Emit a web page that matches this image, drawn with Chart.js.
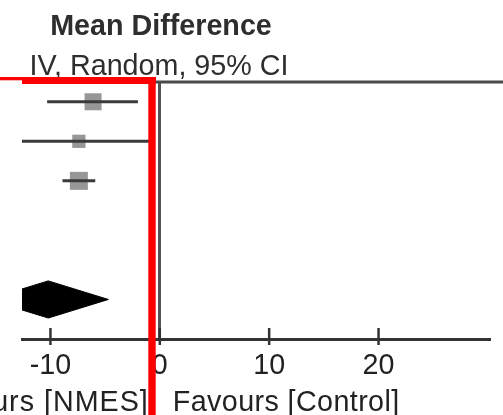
<!DOCTYPE html>
<html>
<head>
<meta charset="utf-8">
<script src="https://cdn.jsdelivr.net/npm/chart.js@4.4.0/dist/chart.umd.min.js"></script>
<style>
  html, body { margin: 0; padding: 0; background: #ffffff; }
  #wrap { width: 503px; height: 415px; position: relative; }
</style>
</head>
<body>
<div id="wrap"><canvas id="myChart" width="503" height="415"></canvas></div>
<script>
// study rows (top to bottom)
var studyRows = [1, 2, 3];
var studyMean = [-6.1, -7.4, -7.4];
var studyLow = [-10.3, -15.0, -8.9];
var studyHigh = [-2.0, -0.8, -5.9];
var studyWeight = [32.1, 19.5, 36.0];

// pooled estimate (diamond)
var pooledRow = 6;
var pooledMean = -10.2;
var pooledLow = -15.7;
var pooledHigh = -4.7;

var xTicks = [-10, 0, 10, 20];
var xMin = -12.6;
var xMax = 30.1;

var titleText = "Mean Difference";
var subTitleText = "IV, Random, 95% CI";
var leftFavours = "Favours [NMES]";
var rightFavours = "Favours [Control]";

var font_family = "'Liberation Sans', Arial, sans-serif";

var datasets = [];

// CI whiskers
for (var i = 0; i < studyRows.length; i++) {
    datasets.push({
        type: 'scatter',
        showLine: true,
        data: [{x: studyLow[i], y: studyRows[i]}, {x: studyHigh[i], y: studyRows[i]}],
        borderColor: '#3a3a3a',
        borderWidth: 3,
        pointRadius: 0
    });
}

// weighted squares (side ~ sqrt(weight))
var squarePts = [];
var squareRad = [];
for (var i = 0; i < studyRows.length; i++) {
    squarePts.push({x: studyMean[i], y: studyRows[i]});
    squareRad.push(3 * Math.sqrt(studyWeight[i]) * Math.SQRT1_2);
}
datasets.push({
    type: 'scatter',
    data: squarePts,
    pointStyle: 'rect',
    pointRadius: squareRad,
    backgroundColor: '#979797',
    borderWidth: 0
});

// diamond
var dh = 0.47;
datasets.push({
    type: 'scatter',
    showLine: true,
    fill: 'shape',
    data: [
        {x: pooledLow, y: pooledRow},
        {x: pooledMean, y: pooledRow - dh},
        {x: pooledHigh, y: pooledRow},
        {x: pooledMean, y: pooledRow + dh},
        {x: pooledLow, y: pooledRow}
    ],
    borderColor: '#000000',
    backgroundColor: '#000000',
    borderWidth: 1,
    pointRadius: 0,
    tension: 0
});

var extras = {
    id: 'extras',
    beforeDatasetsDraw: function(chart) {
        var ctx = chart.ctx;
        var area = chart.chartArea;
        ctx.save();
        // top rule
        ctx.strokeStyle = '#4a4a4a';
        ctx.lineWidth = 3;
        ctx.beginPath();
        ctx.moveTo(area.left, area.top);
        ctx.lineTo(chart.width, area.top);
        ctx.stroke();
        ctx.restore();
    },
    afterDraw: function(chart) {
        var ctx = chart.ctx;
        var area = chart.chartArea;
        var xs = chart.scales.x;
        var x0 = xs.getPixelForValue(0);
        ctx.save();
        // tick marks crossing the axis
        ctx.strokeStyle = '#333333';
        ctx.lineWidth = 2.5;
        for (var i = 0; i < xTicks.length; i++) {
            var px = xs.getPixelForValue(xTicks[i]);
            ctx.beginPath();
            ctx.moveTo(px, area.bottom - 11);
            ctx.lineTo(px, area.bottom + 6);
            ctx.stroke();
        }
        // titles
        ctx.fillStyle = '#2e2e2e';
        ctx.textAlign = 'center';
        ctx.textBaseline = 'alphabetic';
        ctx.font = "bold 28.7px " + font_family;
        ctx.fillText(titleText, 161, 35);
        ctx.font = "28.7px " + font_family;
        ctx.fillText(subTitleText, 159, 75);
        // favours labels
        ctx.fillStyle = '#222222';
        ctx.textAlign = 'left';
        ctx.letterSpacing = '0.4px';
        ctx.fillText(rightFavours, x0 + 13, 411);
        ctx.textAlign = 'right';
        ctx.letterSpacing = '1px';
        ctx.fillText(leftFavours, x0 - 11, 411);
        ctx.letterSpacing = '0px';
        // red marker
        ctx.fillStyle = '#ff0000';
        ctx.fillRect(0, 77, 22, 3.3);
        ctx.fillRect(22, 77, 134, 7);
        ctx.fillRect(148.3, 77, 7.4, chart.height - 77);
        ctx.restore();
    }
};

var ctx = document.getElementById("myChart").getContext("2d");
var myChart = new Chart(ctx, {
    type: 'scatter',
    data: { datasets: datasets },
    options: {
        responsive: false,
        animation: false,
        layout: { padding: { left: 22, right: 14, top: 82, bottom: 0 } },
        plugins: {
            legend: { display: false },
            tooltip: { enabled: false }
        },
        scales: {
            x: {
                type: 'linear',
                position: 'bottom',
                min: xMin,
                max: xMax,
                afterBuildTicks: function(scale) {
                    scale.ticks = xTicks.map(function(v) { return {value: v}; });
                },
                afterFit: function(scale) {
                    scale.height = 76;
                },
                grid: {
                    drawTicks: false,
                    lineWidth: 3,
                    color: function(c) {
                        return (c.tick && c.tick.value === 0) ? '#555555' : 'rgba(0,0,0,0)';
                    }
                },
                border: { display: true, color: '#333333', width: 3 },
                ticks: {
                    padding: 10,
                    color: '#222222',
                    font: { family: font_family, size: 28.7 },
                    callback: function(v) { return v; }
                }
            },
            y: {
                type: 'linear',
                display: false,
                reverse: true,
                min: 0.5,
                max: 7
            }
        }
    },
    plugins: [extras]
});
</script>
</body>
</html>
